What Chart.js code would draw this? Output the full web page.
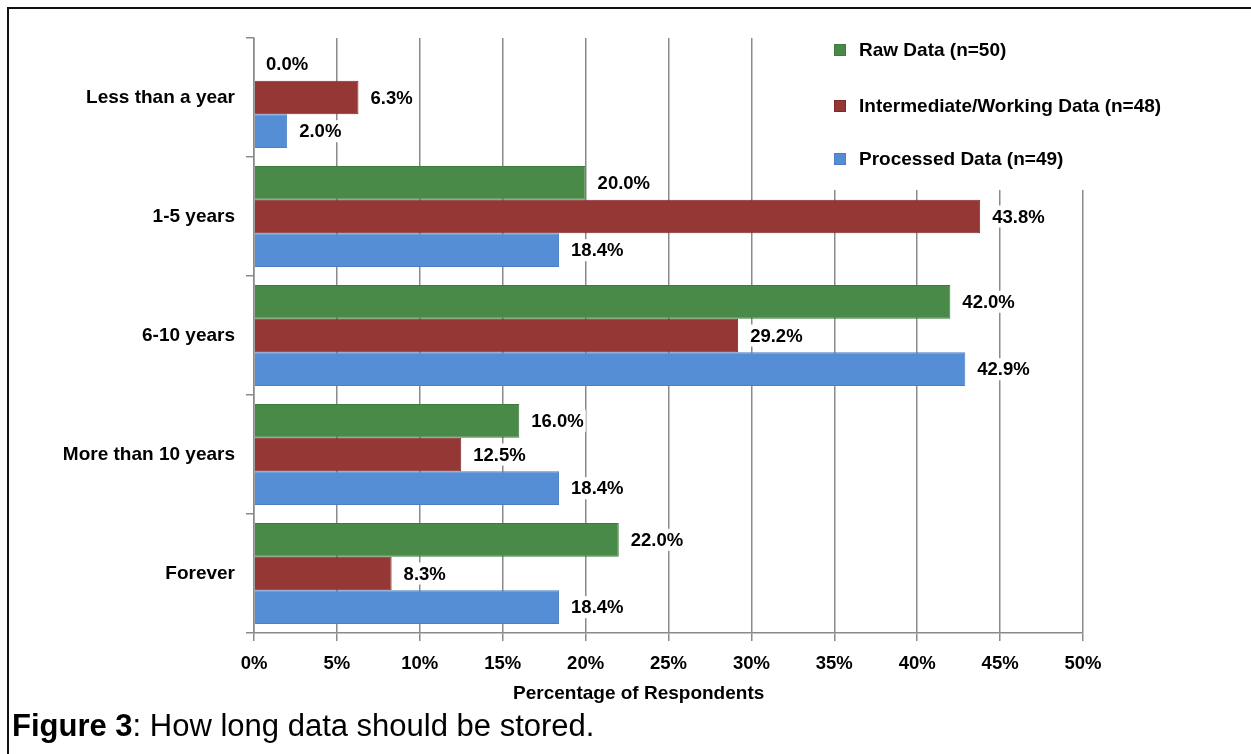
<!DOCTYPE html>
<html>
<head>
<meta charset="utf-8">
<script src="https://cdn.jsdelivr.net/npm/chart.js@4.4.1/dist/chart.umd.min.js"></script>
<style>
  html, body { margin: 0; padding: 0; background: #fff; }
  #wrap { position: relative; width: 1251px; height: 754px; overflow: hidden; }
  #c { position: absolute; left: 0; top: 0; }
  #frame { position: absolute; left: 7px; top: 7px; width: 1260px; height: 760px;
           border-top: 2px solid #111; border-left: 2px solid #111; }
  #caption { position: absolute; left: 12px; top: 708px; font-family: "Liberation Sans", Arial, sans-serif;
             font-size: 31px; color: #000; white-space: nowrap; }
</style>
</head>
<body>
<div id="wrap">
  <canvas id="c" width="1251" height="754"></canvas>
  <div id="frame"></div>
  <div id="caption"><b>Figure 3</b>: How long data should be stored.</div>
</div>
<script>
const categories = ["Less than a year", "1-5 years", "6-10 years", "More than 10 years", "Forever"];
const seriesNames = ["Raw Data (n=50)", "Intermediate/Working Data (n=48)", "Processed Data (n=49)"];
const rawData = [0.0, 20.0, 42.0, 16.0, 22.0];
const intermediateData = [6.3, 43.8, 29.2, 12.5, 8.3];
const processedData = [2.0, 18.4, 42.9, 18.4, 18.4];
const xTicks = [0, 5, 10, 15, 20, 25, 30, 35, 40, 45, 50];
const xTitle = "Percentage of Respondents";

const FONT = '"Liberation Sans", Arial, sans-serif';
const fills = ["#4a8a48", "#953735", "#558ed5"];
const borders = ["#3d7a3b", "#7e2a28", "#4a7fc4"];

const valueLabels = {
  id: 'valueLabels',
  afterDatasetsDraw(chart) {
    const ctx = chart.ctx;
    ctx.save();
    ctx.font = 'bold 18.5px ' + FONT;
    ctx.textBaseline = 'middle';
    ctx.textAlign = 'left';
    chart.data.datasets.forEach((ds, di) => {
      const meta = chart.getDatasetMeta(di);
      meta.data.forEach((bar, i) => {
        const txt = ds.data[i].toFixed(1) + '%';
        const x = bar.x + 12;
        const y = bar.y;
        const w = ctx.measureText(txt).width;
        ctx.fillStyle = '#fff';
        ctx.fillRect(x - 2, y - 11, w + 4, 22);
        ctx.fillStyle = '#000';
        ctx.fillText(txt, x, y + 1);
      });
    });
    ctx.restore();
  }
};

const customLegend = {
  id: 'customLegend',
  afterDatasetsDraw(chart) {
    const ctx = chart.ctx;
    ctx.save();
    ctx.fillStyle = '#fff';
    ctx.fillRect(815, 36, 380, 154);
    const ys = [50, 106, 159];
    ctx.font = 'bold 19px ' + FONT;
    ctx.textBaseline = 'middle';
    ctx.textAlign = 'left';
    seriesNames.forEach((n, i) => {
      ctx.fillStyle = fills[i];
      ctx.fillRect(834, ys[i] - 6, 12, 12);
      ctx.strokeStyle = borders[i];
      ctx.lineWidth = 1;
      ctx.strokeRect(834.5, ys[i] - 5.5, 11, 11);
      ctx.fillStyle = '#000';
      ctx.fillText(n, 859, ys[i] + 1);
    });
    ctx.restore();
  }
};

const axisTitle = {
  id: 'axisTitle',
  afterDraw(chart) {
    const ctx = chart.ctx;
    ctx.save();
    ctx.font = 'bold 19px ' + FONT;
    ctx.textAlign = 'center';
    ctx.textBaseline = 'middle';
    ctx.fillStyle = '#000';
    const a = chart.chartArea;
    ctx.fillText(xTitle, a.left + (a.right - a.left) * 0.464, 694);
    ctx.restore();
  }
};

new Chart(document.getElementById('c'), {
  type: 'bar',
  data: {
    labels: categories,
    datasets: [
      { label: seriesNames[0], data: rawData, backgroundColor: fills[0], borderColor: borders[0], borderWidth: 1 },
      { label: seriesNames[1], data: intermediateData, backgroundColor: fills[1], borderColor: borders[1], borderWidth: 1 },
      { label: seriesNames[2], data: processedData, backgroundColor: fills[2], borderColor: borders[2], borderWidth: 1 }
    ]
  },
  options: {
    indexAxis: 'y',
    responsive: false,
    animation: false,
    categoryPercentage: 0.85,
    barPercentage: 1.0,
    layout: { padding: { top: 38, right: 168, left: 0, bottom: 0 } },
    plugins: { legend: { display: false }, tooltip: { enabled: false } },
    scales: {
      x: {
        min: 0, max: 50,
        afterFit: s => { s.height = 121; },
        afterBuildTicks: s => { s.ticks = xTicks.map(v => ({ value: v })); },
        ticks: { callback: v => v + '%', color: '#000', padding: 12,
                 font: { family: FONT, size: 18.5, weight: 'bold' } },
        grid: { color: '#8a8a8a', lineWidth: 1.5, tickLength: 8, drawOnChartArea: true },
        border: { color: '#8a8a8a', width: 1.5 }
      },
      y: {
        afterFit: s => { s.width = 254; },
        ticks: { color: '#000', padding: 11, font: { family: FONT, size: 19, weight: 'bold' } },
        grid: { color: '#8a8a8a', lineWidth: 1.5, tickLength: 8, drawOnChartArea: false, offset: true },
        border: { color: '#8a8a8a', width: 1.5 }
      }
    }
  },
  plugins: [valueLabels, customLegend, axisTitle]
});
</script>
</body>
</html>
